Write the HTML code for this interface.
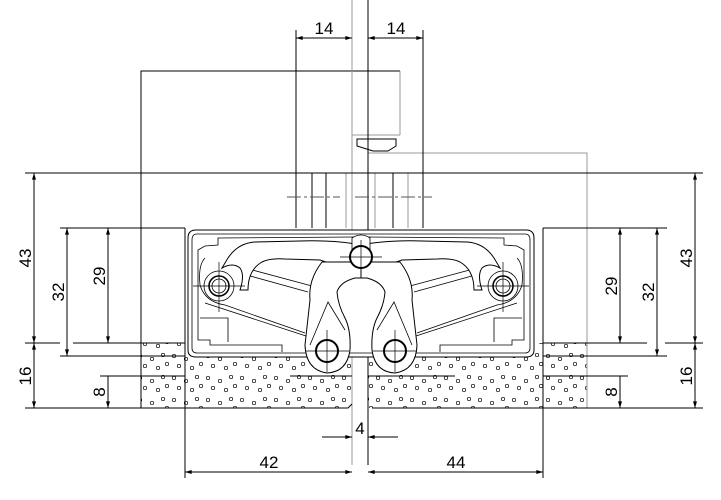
<!DOCTYPE html>
<html><head><meta charset="utf-8"><style>
html,body{margin:0;padding:0;background:#fff;}
svg{display:block;}
text{font-family:"Liberation Sans",sans-serif;font-size:17px;fill:#000;}
</style></head><body>
<svg width="721" height="500" viewBox="0 0 721 500" xmlns="http://www.w3.org/2000/svg">
<defs>
<pattern id="st" width="34" height="22" patternUnits="userSpaceOnUse">
<g fill="none" stroke="#000" stroke-width="0.7">
<circle cx="4" cy="4" r="1.7"/><circle cx="16" cy="7" r="1.7"/><circle cx="27" cy="3" r="1.7"/>
<circle cx="9" cy="14" r="1.7"/><circle cx="22" cy="16" r="1.7"/><circle cx="31" cy="12" r="1.7"/>
</g></pattern>
<marker id="a" viewBox="0 0 10 6" refX="10" refY="3" markerWidth="10" markerHeight="4" orient="auto-start-reverse" markerUnits="userSpaceOnUse"><path d="M0,0 L10,3 L0,6z" fill="#000"/></marker>
<g id="half" stroke="#000" stroke-width="1" fill="#fff">
<path d="M361,230 L196,230 Q188,230 188,238 L188,350 Q188,357 196,357 L361,357" />
<path d="M361,234 L197,234 Q192,234 192,240 L192,348 Q192,353 197,353 L361,353" fill="none" stroke-width="0.8"/>
<path d="M355,237 L218,238 L218,245 L205,246 L198,250 L198,340 L210,340 L210,345 L282,345 L282,352" fill="none" stroke-width="0.8"/>
<path d="M205,258 Q198,265 200,285 Q205,302 225,305 L305,333" fill="none" stroke-width="0.8"/>
<path d="M200,318 L228,318 L228,342" fill="none" stroke-width="0.8"/>
<path d="M245,268 L312,286 M243,274 L308,292" fill="none" stroke-width="0.8"/>
<path d="M205,303 L306,336" fill="none" stroke-width="0.8"/>
<path d="M356,244 Q330,240 300,241 L255,242 Q238,243 228,258 L222,268 Q233,262 240,268 Q245,275 240,290 L248,290 Q248,270 262,262 Q270,258 285,259 L320,260 L355,272" />
<path d="M322,262 Q308,280 310,300 L305,345 Q306,370 327,373 Q347,372 350,350 Q351,330 345,318 Q338,305 337,292 Q340,282 355,278 L361,278 L361,262 Z"/>
<path d="M310,345 L328,302 L345,330" fill="none" stroke-width="0.8"/>
<circle cx="219" cy="286" r="15" fill="none" stroke-width="0.8"/>
<circle cx="219" cy="286" r="10" stroke-width="1.5"/>
<circle cx="219" cy="286" r="7" fill="none" stroke-width="0.8"/>
<path d="M193,286 L245,286 M219,262 L219,312" stroke-width="0.7"/>
<circle cx="327" cy="351" r="11" stroke-width="2"/>
<path d="M305,351 L349,351 M327,330 L327,372" stroke-width="0.7"/>
</g>
</defs>

<rect x="141" y="343" width="211" height="65" fill="url(#st)"/>
<rect x="368" y="343" width="219" height="65" fill="url(#st)"/>

<g fill="none" stroke="#000" stroke-width="1">
<path d="M141,408 L141,71 L400,71" />
<path d="M400,71 L400,135 M352,135 L400,135 M368,153 L587,153 L587,408" stroke="#999"/>
<path d="M357,139 L396,139 L396,146 L388,151 L373,151 L357,146 Z" />
<path d="M352,0 L352,465" stroke="#999"/>
<path d="M368,0 L368,465" />
<path d="M296,30 L296,228 M312,173 L312,228 M326,173 L326,228 M423,30 L423,228 M393,173 L393,228" />
<path d="M346,173 L346,228 M375,173 L375,228 M408,173 L408,228" stroke="#999"/>
<path d="M287,197 L340,197 M355,197 L432,197" stroke-dasharray="14,3,3,3" stroke="#555"/>
<path d="M25,173 L703,173" />
<path d="M60,228 L185,228 M543,228 L667,228" />
<path d="M25,343 L60,343 M73,343 L185,343 M543,343 L647,343 M665,343 L703,343" />
<path d="M60,356 L185,356 M543,356 L667,356" />
<path d="M100,376 L185,376 M290,376 L352,376 M368,376 L455,376 M543,376 L628,376" />
<path d="M25,408 L348,408 L352,404 M372,408 L703,408" />
<path d="M185,228 L185,478 M543,228 L543,478" />
</g>

<use href="#half"/>
<use href="#half" transform="translate(722,0) scale(-1,1)"/>
<g stroke="#000" fill="#fff">
<path d="M352,238 Q361,232 370,238 L370,262 L352,262 Z" stroke-width="0.8"/>
<circle cx="361" cy="257" r="11" stroke-width="2"/>
<path d="M340,257 L382,257 M361,240 L361,275" stroke-width="0.7"/>
</g>

<g stroke="#000" stroke-width="1" fill="none">
<path d="M296,38 L352,38" marker-start="url(#a)" marker-end="url(#a)"/>
<path d="M368,38 L423,38" marker-start="url(#a)" marker-end="url(#a)"/>
<path d="M185,472 L352,472" marker-start="url(#a)" marker-end="url(#a)"/>
<path d="M368,472 L543,472" marker-start="url(#a)" marker-end="url(#a)"/>
<path d="M322,437 L352,437" marker-end="url(#a)"/>
<path d="M398,437 L368,437" marker-end="url(#a)"/>
<path d="M34,173 L34,343" marker-start="url(#a)" marker-end="url(#a)"/>
<path d="M34,343 L34,408" marker-start="url(#a)" marker-end="url(#a)"/>
<path d="M67,228 L67,356" marker-start="url(#a)" marker-end="url(#a)"/>
<path d="M108,228 L108,343" marker-start="url(#a)" marker-end="url(#a)"/>
<path d="M108,390 L108,408" marker-end="url(#a)"/>
<path d="M108,376 L108,390"/>
<path d="M695,173 L695,343" marker-start="url(#a)" marker-end="url(#a)"/>
<path d="M695,343 L695,408" marker-start="url(#a)" marker-end="url(#a)"/>
<path d="M657,228 L657,356" marker-start="url(#a)" marker-end="url(#a)"/>
<path d="M620,228 L620,343" marker-start="url(#a)" marker-end="url(#a)"/>
<path d="M620,390 L620,408" marker-end="url(#a)"/>
<path d="M620,376 L620,390"/>
</g>

<g>
<text x="324" y="34" text-anchor="middle">14</text>
<text x="396" y="34" text-anchor="middle">14</text>
<text x="269" y="468" text-anchor="middle">42</text>
<text x="456" y="468" text-anchor="middle">44</text>
<text x="360" y="434" text-anchor="middle">4</text>
<text transform="translate(31,258) rotate(-90)" text-anchor="middle">43</text>
<text transform="translate(31,376) rotate(-90)" text-anchor="middle">16</text>
<text transform="translate(64,292) rotate(-90)" text-anchor="middle">32</text>
<text transform="translate(105,276) rotate(-90)" text-anchor="middle">29</text>
<text transform="translate(105,392) rotate(-90)" text-anchor="middle">8</text>
<text transform="translate(692,258) rotate(-90)" text-anchor="middle">43</text>
<text transform="translate(692,376) rotate(-90)" text-anchor="middle">16</text>
<text transform="translate(654,292) rotate(-90)" text-anchor="middle">32</text>
<text transform="translate(617,286) rotate(-90)" text-anchor="middle">29</text>
<text transform="translate(617,392) rotate(-90)" text-anchor="middle">8</text>
</g>
</svg>
</body></html>
